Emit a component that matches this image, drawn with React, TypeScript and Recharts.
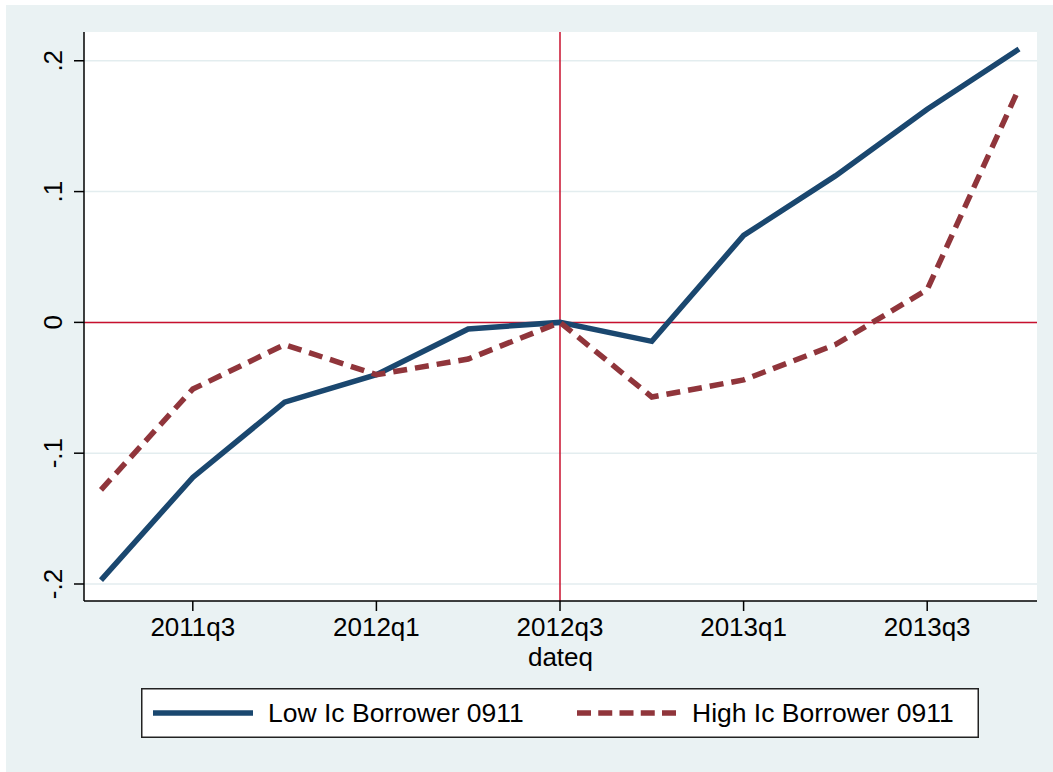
import { LineChart, Line, XAxis, YAxis, CartesianGrid, ReferenceLine, Legend } from 'recharts';

const quarters = [
  '2011q2', '2011q3', '2011q4', '2012q1', '2012q2', '2012q3',
  '2012q4', '2013q1', '2013q2', '2013q3', '2013q4',
];
const lowIc = [-0.197, -0.1185, -0.061, -0.04, -0.005, 0, -0.0145, 0.0665, 0.112, 0.163, 0.209];
const highIc = [-0.128, -0.051, -0.017, -0.04, -0.028, 0, -0.057, -0.044, -0.017, 0.025, 0.179];

const xTicks = ['2011q3', '2012q1', '2012q3', '2013q1', '2013q3'];
const yTicks = [-0.2, -0.1, 0, 0.1, 0.2];

const data = quarters.map((q, i) => ({ dateq: q, low: lowIc[i], high: highIc[i] }));

const FONT = '"Liberation Sans", Arial, sans-serif';
const NAVY = '#1a476f';
const MAROON = '#90353b';
const RED = '#c8102e';

const fmtY = (v: number) => {
  if (v === 0) return '0';
  const s = String(Math.round(v * 10) / 10);
  return s.replace('0.', '.');
};

const YTick = (props: any) => {
  const { x, y, payload } = props;
  return (
    <text
      x={x}
      y={y}
      transform={`rotate(-90 ${x} ${y})`}
      textAnchor="middle"
      fontFamily={FONT}
      fontSize={26}
      fill="#000"
    >
      {fmtY(payload.value)}
    </text>
  );
};

const LegendBox = () => (
  <svg width={838} height={50} style={{ display: 'block' }}>
    <rect x={0.75} y={0.75} width={836.5} height={48.5} fill="#fff" stroke="#222" strokeWidth={1.5} />
    <line x1={12} y1={25} x2={112} y2={25} stroke={NAVY} strokeWidth={5.5} />
    <text x={127} y={34} fontFamily={FONT} fontSize={26.5} fill="#000">Low Ic Borrower 0911</text>
    <line x1={436} y1={25} x2={535} y2={25} stroke={MAROON} strokeWidth={5.5} strokeDasharray="14 7.25" />
    <text x={551} y={34} fontFamily={FONT} fontSize={26.5} fill="#000">High Ic Borrower 0911</text>
  </svg>
);

export default function App() {
  return (
    <div style={{ position: 'absolute', left: 0, top: 0, width: 1053, height: 772, background: '#fff' }}>
      <div style={{ position: 'absolute', left: 6, top: 5, width: 1047, height: 767, background: '#eaf2f3' }} />
      <div style={{ position: 'absolute', left: 0, top: 0 }}>
        <LineChart
          width={1053}
          height={772}
          data={data}
          margin={{ top: 32, right: 16, bottom: 106, left: 44 }}
        >
          <CartesianGrid
            vertical={false}
            horizontalValues={yTicks}
            fill="#fff"
            stroke="#e3edef"
            strokeWidth={1.5}
          />
          <XAxis
            dataKey="dateq"
            ticks={xTicks}
            interval={0}
            padding={{ left: 17, right: 18 }}
            height={65}
            tickSize={10}
            tickMargin={7}
            axisLine={{ stroke: '#000', strokeWidth: 1.5 }}
            tickLine={{ stroke: '#000', strokeWidth: 1.5 }}
            tick={{ fill: '#000', fontSize: 26, fontFamily: FONT }}
            label={{ value: 'dateq', position: 'insideBottom', offset: 0, fill: '#000', fontSize: 26, fontFamily: FONT }}
          />
          <YAxis
            width={40}
            type="number"
            domain={[-0.213, 0.222]}
            ticks={yTicks}
            allowDataOverflow
            interval={0}
            tickSize={10}
            tickMargin={12}
            axisLine={{ stroke: '#000', strokeWidth: 1.5 }}
            tickLine={{ stroke: '#000', strokeWidth: 1.5 }}
            tick={<YTick />}
          />
          <ReferenceLine y={0} stroke={RED} strokeWidth={1.5} />
          <ReferenceLine x="2012q3" stroke={RED} strokeWidth={1.5} />
          <Line
            dataKey="low"
            name="Low Ic Borrower 0911"
            stroke={NAVY}
            strokeWidth={5.5}
            dot={false}
            activeDot={false}
            isAnimationActive={false}
          />
          <Line
            dataKey="high"
            name="High Ic Borrower 0911"
            stroke={MAROON}
            strokeWidth={5.5}
            strokeDasharray="14 8"
            dot={false}
            activeDot={false}
            isAnimationActive={false}
          />
          <Legend
            verticalAlign="middle"
            layout="horizontal"
            content={<LegendBox />}
            wrapperStyle={{ left: 141, top: 688, width: 838, height: 50 }}
          />
        </LineChart>
      </div>
    </div>
  );
}
